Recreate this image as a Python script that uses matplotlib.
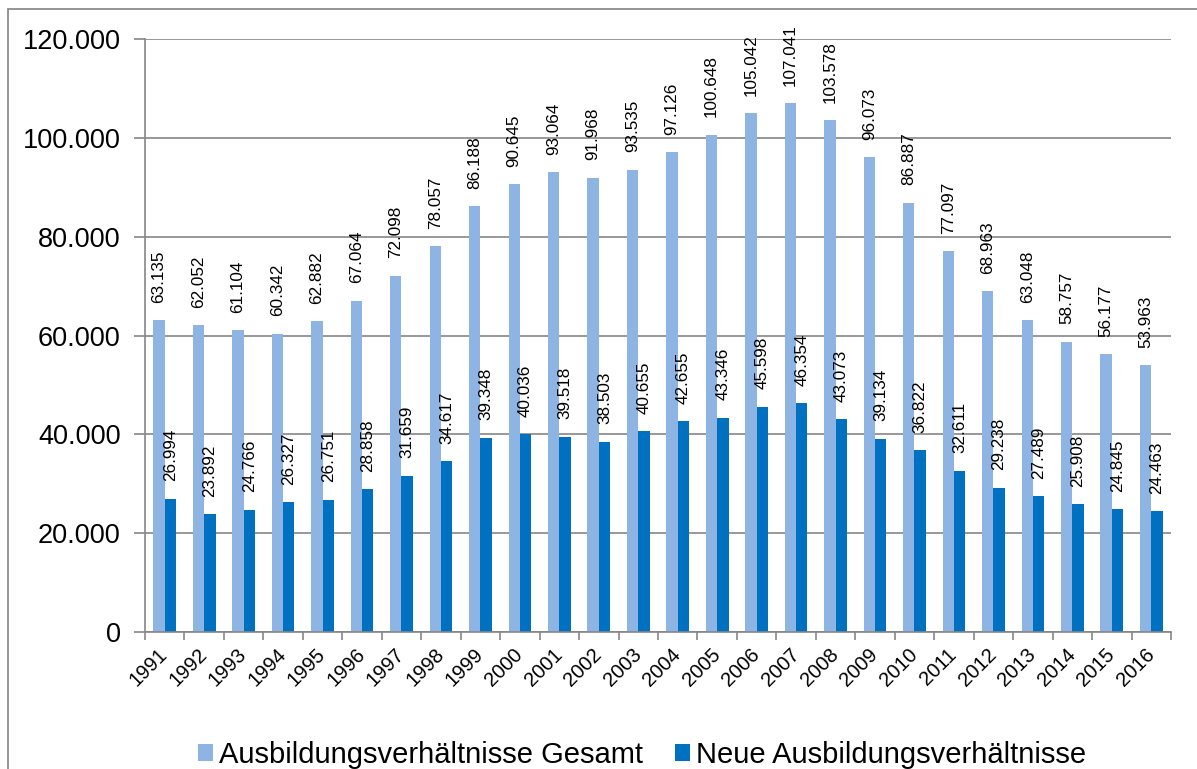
import matplotlib
matplotlib.use("Agg")
import matplotlib.pyplot as plt
import numpy as np
from matplotlib.patches import Rectangle
from matplotlib.ticker import FuncFormatter, FixedLocator

# --- data ---
years = [str(y) for y in range(1991, 2017)]
gesamt = [63135, 62052, 61104, 60342, 62882, 67064, 72098, 78057, 86188, 90645,
          93064, 91968, 93535, 97126, 100648, 105042, 107041, 103578, 96073, 86887,
          77097, 68963, 63048, 58757, 56177, 53963]
neue = [26994, 23892, 24766, 26327, 26751, 28858, 31659, 34617, 39348, 40036,
        39518, 38503, 40655, 42655, 43346, 45598, 46354, 43073, 39134, 36822,
        32611, 29238, 27489, 25908, 24845, 24463]
label_gesamt = "Ausbildungsverhältnisse Gesamt"
label_neue = "Neue Ausbildungsverhältnisse"

# --- style ---
COL_LIGHT = "#8EB4E3"
COL_DARK = "#0070C0"
COL_GRID = "#868686"
COL_FRAME = "#8C8C8C"
FONT = "Liberation Sans"

plt.rcParams["font.family"] = [FONT, "DejaVu Sans"]


def de_thousands(x, p):
    return f"{int(round(x)):,}".replace(",", ".")


fig = plt.figure(figsize=(11.97, 7.69), dpi=100, facecolor="white")
ax = fig.add_axes([145 / 1197, 1 - 632 / 769, (1171 - 145) / 1197, (632 - 39) / 769])

x = np.arange(len(years))
w = 0.287
b1 = ax.bar(x - w / 2, gesamt, width=w, color=COL_LIGHT, label=label_gesamt, zorder=2)
b2 = ax.bar(x + w / 2, neue, width=w, color=COL_DARK, label=label_neue, zorder=2)

# value labels, rotated, above each bar
for xs, vals in [(x - w / 2, gesamt), (x + w / 2, neue)]:
    for xi, v in zip(xs, vals):
        ax.annotate(de_thousands(v, None), xy=(xi, v), xytext=(0, 12.5), textcoords="offset points",
                    rotation=90, ha="center", va="bottom", fontsize=12.3, color="black")

ax.set_xlim(-0.5, len(years) - 0.5)
ax.set_ylim(0, 120000)
ax.set_yticks(np.arange(0, 120001, 20000))
ax.yaxis.set_major_formatter(FuncFormatter(de_thousands))
ax.grid(axis="y", color=COL_GRID, linewidth=1.2, zorder=0)
ax.set_axisbelow(True)

# ticks at category boundaries, labels at centers
ax.xaxis.set_major_locator(FixedLocator(np.arange(-0.5, len(years), 1.0)))
ax.xaxis.set_minor_locator(FixedLocator(x))
ax.set_xticklabels([])
ax.set_xticklabels(years, minor=True, rotation=45, ha="right", va="center",
                   rotation_mode="anchor", fontsize=14.5)
ax.tick_params(axis="x", which="major", length=6, width=1.2, color=COL_GRID)
ax.tick_params(axis="x", which="minor", length=0, pad=14)
ax.tick_params(axis="y", length=8, width=1.2, color=COL_GRID, labelsize=19.5, pad=9.5)

for s in ["top", "right"]:
    ax.spines[s].set_visible(False)
for s in ["left", "bottom"]:
    ax.spines[s].set_color(COL_GRID)
    ax.spines[s].set_linewidth(1.2)

leg = fig.legend(handles=[b1, b2], labels=[label_gesamt, label_neue], loc="center",
                 bbox_to_anchor=(642 / 1197, 1 - 755 / 769), ncol=2, frameon=False,
                 fontsize=21, handlelength=0.51, handleheight=0.51, handletextpad=0.2,
                 columnspacing=1.1, borderpad=0)

# outer chart frame (cut off at right and bottom)
fig.patches.append(Rectangle((8 / 1197, -0.1), 1.2, 1.1 - 9.5 / 769, transform=fig.transFigure,
                             fill=False, edgecolor=COL_FRAME, linewidth=1.3))

fig.savefig("out.png", dpi=100, facecolor="white")
